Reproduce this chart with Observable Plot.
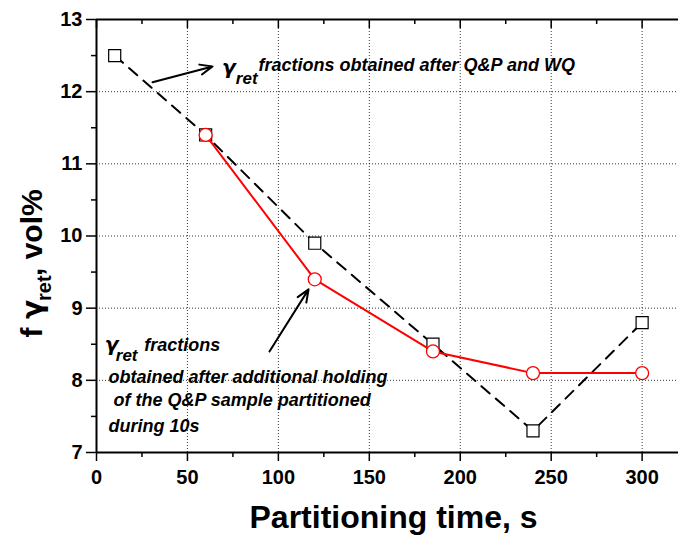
<!DOCTYPE html>
<html>
<head>
<meta charset="utf-8">
<script src="https://cdn.jsdelivr.net/npm/d3@7"></script>
<script src="https://cdn.jsdelivr.net/npm/@observablehq/plot@0.6"></script>
<style>
  html, body { margin: 0; padding: 0; background: white; }
  #chart { width: 678px; height: 536px; }
</style>
</head>
<body>
<div id="chart"></div>
<script>
// ---- data ----
const wqTimes = [10, 60, 120, 185, 240, 300];
const wqValues = [12.5, 11.4, 9.9, 8.5, 7.3, 8.8];
const holdTimes = [60, 120, 185, 240, 300];
const holdValues = [11.4, 9.4, 8.4, 8.1, 8.1];

const xMajor = [0, 50, 100, 150, 200, 250, 300];
const xMinor = [25, 75, 125, 175, 225, 275];
const yMajor = [7, 8, 9, 10, 11, 12, 13];
const yMinor = [7.5, 8.5, 9.5, 10.5, 11.5, 12.5];
const xGrid = [50, 100, 150, 200, 250, 300];
const yGrid = [8, 9, 10, 11, 12];

const xTitle = "Partitioning time, s";
const yTitleF = "f";
const yTitleGamma = "γ";
const yTitleSub = "ret";
const yTitleB = ", vol%";

// annotation labels (positions in data units)
const gammaLabels = [
  {x: 69.0, y: 12.25, text: "γ"},
  {x: 4.6, y: 8.41, text: "γ"}
];
const annoText = [
  {x: 76.6, y: 12.11, text: "ret", size: 17},
  {x: 89.1, y: 12.28, text: "fractions obtained after Q&P and WQ", size: 18},
  {x: 10.6, y: 8.27, text: "ret", size: 17},
  {x: 26.2, y: 8.41, text: "fractions", size: 18},
  {x: 6.6, y: 7.96, text: "obtained after additional holding", size: 18},
  {x: 9.3, y: 7.65, text: "of the Q&P sample partitioned", size: 18},
  {x: 6.6, y: 7.28, text: "during 10s", size: 18}
];
const arrows = [
  {x1: 30.8, y1: 12.13, x2: 63.8, y2: 12.35},
  {x1: 95.1, y1: 8.40, x2: 116.6, y2: 9.26}
];

const wq = wqTimes.map((t, i) => ({t, v: wqValues[i]}));
const hold = holdTimes.map((t, i) => ({t, v: holdValues[i]}));

const W = 678, H = 536, mL = 96, mR = 0, mT = 19, mB = 84;
const frameH = H - mT - mB;
const gammaFont = "'DejaVu Sans', sans-serif";

const plot = Plot.plot({
  width: W,
  height: H,
  marginLeft: mL,
  marginRight: mR,
  marginTop: mT,
  marginBottom: mB,
  style: {fontFamily: "'Liberation Sans', Arial, sans-serif", background: "white", overflow: "visible", color: "black"},
  x: {domain: [0, 320], axis: null},
  y: {domain: [7, 13], axis: null},
  marks: [
    Plot.gridX(xGrid, {stroke: "#222", strokeOpacity: 0.9, strokeDasharray: "1,2", strokeWidth: 1}),
    Plot.gridY(yGrid, {stroke: "#222", strokeOpacity: 0.9, strokeDasharray: "1,2", strokeWidth: 1}),
    // frame lines
    Plot.ruleY([7], {stroke: "black", strokeWidth: 2}),
    Plot.ruleY([13], {stroke: "black", strokeWidth: 2}),
    Plot.ruleX([0], {stroke: "black", strokeWidth: 2}),
    // bottom axis
    Plot.axisX(xMajor, {anchor: "bottom", tickSize: 9, tickPadding: 8, fontSize: 20, fontWeight: "bold", label: null, strokeWidth: 1.5, tickFormat: d => String(d)}),
    Plot.tickX(xMinor, {insetTop: frameH, insetBottom: -5, stroke: "black", strokeWidth: 1.5}),
    // top ticks (inward)
    Plot.tickX(xMajor, {insetBottom: frameH - 9, stroke: "black", strokeWidth: 1.5}),
    Plot.tickX(xMinor, {insetBottom: frameH - 5, stroke: "black", strokeWidth: 1.5}),
    // left axis
    Plot.axisY(yMajor, {anchor: "left", tickSize: 10, tickPadding: 4, fontSize: 20, fontWeight: "bold", label: null, strokeWidth: 1.5, tickFormat: d => String(d)}),
    Plot.tickY(yMinor, {insetLeft: -5, insetRight: W - mL - mR, stroke: "black", strokeWidth: 1.5}),
    // series
    Plot.line(wq, {x: "t", y: "v", stroke: "black", strokeWidth: 2, strokeDasharray: "11,8"}),
    Plot.dot(wq, {x: "t", y: "v", symbol: "square", r: 6.8, stroke: "black", fill: "white", strokeWidth: 1.2}),
    Plot.line(hold, {x: "t", y: "v", stroke: "#ff0000", strokeWidth: 2}),
    Plot.dot(hold, {x: "t", y: "v", r: 6.5, stroke: "#ff0000", fill: "white", strokeWidth: 1.3}),
    // annotations
    Plot.arrow(arrows, {x1: "x1", y1: "y1", x2: "x2", y2: "y2", stroke: "black", strokeWidth: 2, headLength: 10, headAngle: 45}),
    Plot.text(gammaLabels, {x: "x", y: "y", text: "text", fontSize: 20, textAnchor: "start", lineAnchor: "bottom", fontWeight: "bold", fontStyle: "italic", fontFamily: gammaFont, fill: "black"}),
    Plot.text(annoText, {x: "x", y: "y", text: "text", fontSize: "size", textAnchor: "start", lineAnchor: "bottom", fontWeight: "bold", fontStyle: "italic", fill: "black"}),
    // axis titles
    Plot.text([xTitle], {frameAnchor: "bottom", dx: 6, dy: 75, lineAnchor: "bottom", fontSize: 32, fontWeight: "bold", fill: "black"}),
    Plot.text([yTitleF], {frameAnchor: "left", rotate: -90, dx: -55, dy: 101.5, textAnchor: "start", lineAnchor: "bottom", fontSize: 30, fontWeight: "bold", fill: "black"}),
    Plot.text([yTitleGamma], {frameAnchor: "left", rotate: -90, dx: -55, dy: 83, textAnchor: "start", lineAnchor: "bottom", fontSize: 28, fontWeight: "bold", fontFamily: gammaFont, fill: "black"}),
    Plot.text([yTitleSub], {frameAnchor: "left", rotate: -90, dx: -46, dy: 65, textAnchor: "start", lineAnchor: "bottom", fontSize: 20, fontWeight: "bold", fill: "black"}),
    Plot.text([yTitleB], {frameAnchor: "left", rotate: -90, dx: -55, dy: 40, textAnchor: "start", lineAnchor: "bottom", fontSize: 30, fontWeight: "bold", fill: "black"})
  ]
});
document.getElementById("chart").appendChild(plot);
</script>
</body>
</html>
